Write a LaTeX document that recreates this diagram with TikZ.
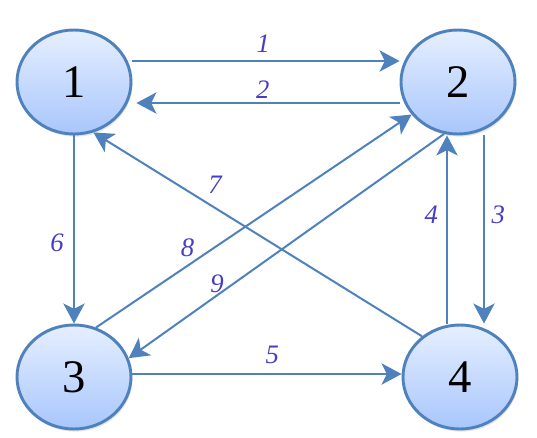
\documentclass[tikz,border=0pt]{standalone}
\usepackage{fontspec}
\setmainfont{Liberation Serif}
\usetikzlibrary{shapes.geometric, arrows.meta, shadows}
\definecolor{edgeblue}{RGB}{79,129,189}
\definecolor{labelblue}{RGB}{70,60,200}
\definecolor{nodetop}{RGB}{230,239,255}
\definecolor{nodebottom}{RGB}{168,198,252}
\tikzset{
  state/.style={ellipse, draw=edgeblue, line width=2.2pt,
                top color=nodetop, bottom color=nodebottom,
                minimum width=85.5pt, minimum height=78pt, inner sep=0pt,
                font=\fontsize{35}{35}\selectfont,
                drop shadow={opacity=0.2, shadow xshift=1pt, shadow yshift=-2pt}},
  arrow/.style={-{Stealth[length=15pt, width=16pt, inset=4pt]},
                draw=edgeblue, line width=1.5pt},
  lbl/.style={font=\fontsize{20}{20}\selectfont\itshape, text=labelblue,
              inner sep=2pt},
}
\begin{document}
\begin{tikzpicture}[x=0.75pt, y=-0.75pt]
\useasboundingbox (0,0) rectangle (537,437);

\node[state] (n1) at (74,82)  {1};
\node[state] (n2) at (458,82) {2};
\node[state] (n3) at (74,377) {3};
\node[state] (n4) at (460,377) {4};

% top pair
\draw[arrow] ([yshift=15.75pt]n1.east) -- node[lbl, pos=0.49, above=4pt] {1} ([yshift=15.75pt]n2.west);
\draw[arrow] ([yshift=-15.75pt]n2.west) -- node[lbl, pos=0.52, above=1pt] {2} ([yshift=-15.75pt, xshift=3pt]n1.east);

% verticals
\draw[arrow] (n1.south) -- node[lbl, pos=0.57, left=5pt] {6} (n3.north);
\draw[arrow] ([xshift=19.5pt]n2.south) -- node[lbl, pos=0.42, right=3pt] {3} ([xshift=18pt]n4.north);
\draw[arrow] ([xshift=-9.75pt]n4.north) -- node[lbl, pos=0.58, left=4pt] {4} ([xshift=-8.25pt]n2.south);

% bottom
\draw[arrow] ([yshift=2.25pt]n3.east) -- node[lbl, pos=0.52, above=5pt] {5} ([yshift=2.25pt]n4.west);

% diagonals
\draw[arrow] (n4.133) -- node[lbl, pos=0.63, above=7.75pt] {7} (n1.-69);
\draw[arrow] (n3.66) -- node[lbl, pos=0.29, above=4pt] {8} (n2.215);
\draw[arrow] (n2.255) -- node[lbl, pos=0.72, above=-1pt] {9} (n3.19);
\end{tikzpicture}
\end{document}
